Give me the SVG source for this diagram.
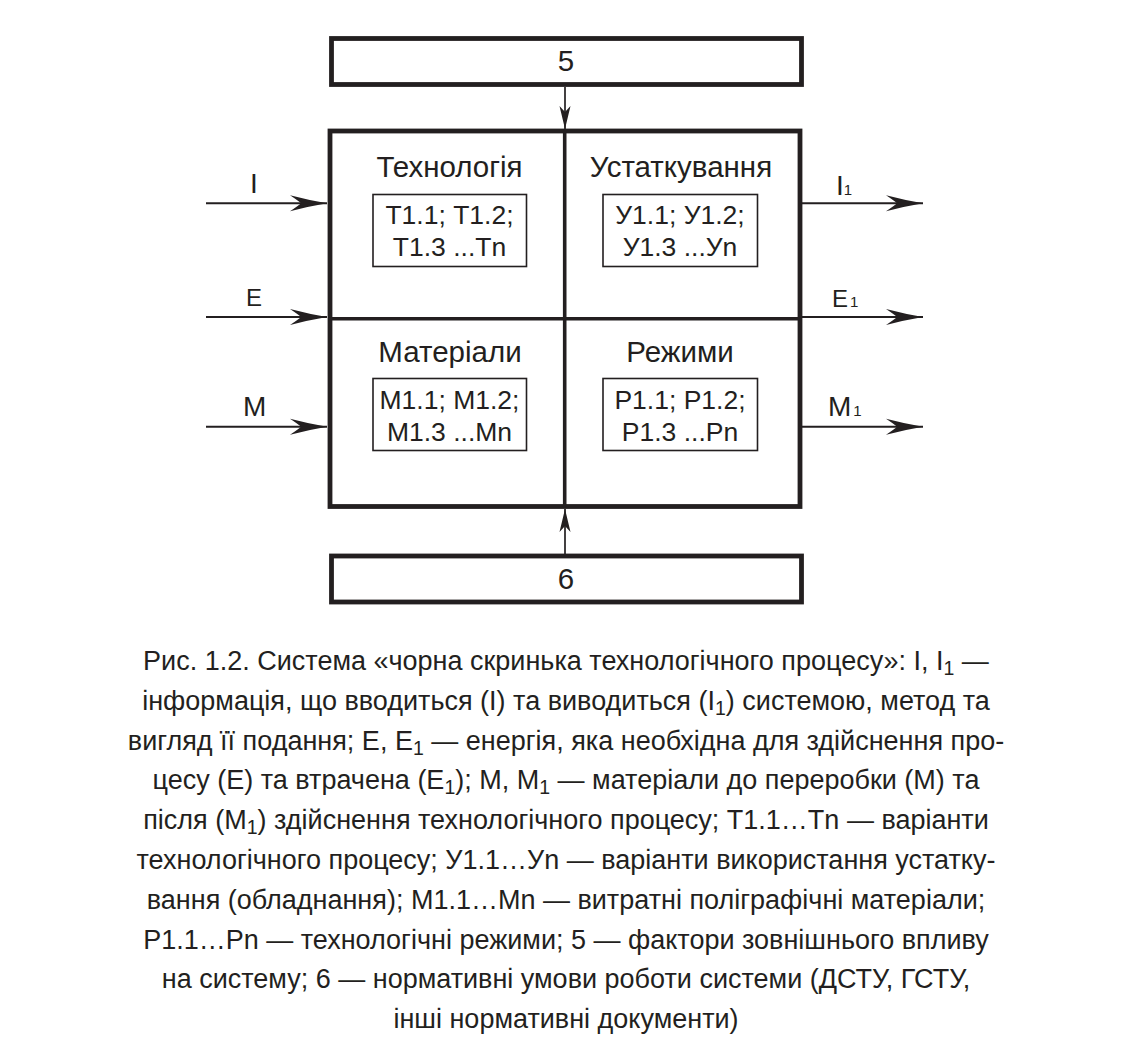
<svg xmlns="http://www.w3.org/2000/svg" width="1132" height="1064" viewBox="0 0 1132 1064">
<style>
.t{font-family:"Liberation Sans",Arial,sans-serif;fill:#231f20}
.ttl{font-size:29.5px;text-anchor:middle}
.bx{font-size:26.5px;text-anchor:middle}
.lbl{font-size:28px}
.cap{font-size:27px;text-anchor:middle}
.sb{font-size:19.5px}
.thick{fill:none;stroke:#231f20;stroke-width:4.8}
.div{fill:none;stroke:#231f20;stroke-width:3.6}
.thin{fill:none;stroke:#231f20;stroke-width:1.6}
.ar{fill:none;stroke:#231f20;stroke-width:2}
.arv{fill:none;stroke:#231f20;stroke-width:1.7}
</style>
<defs>
<marker id="ah" viewBox="-38 -9 39 18" refX="0" refY="0" markerWidth="39" markerHeight="18" markerUnits="userSpaceOnUse" orient="auto">
<path d="M0,0 Q-18,-3 -37,-8 Q-28,-2 -26,0 Q-28,2 -37,8 Q-18,3 0,0 Z" fill="#231f20"/>
</marker>
<marker id="av" viewBox="-24 -6 25 12" refX="0" refY="0" markerWidth="25" markerHeight="12" markerUnits="userSpaceOnUse" orient="auto">
<path d="M0,0 L-23,-5.5 L-17,0 L-23,5.5 Z" fill="#231f20"/>
</marker>
</defs>

<g id="box5">
<rect class="thick" x="331.5" y="38.5" width="470" height="46"/>
<text class="t ttl" x="566" y="71">5</text>
</g>

<g id="main">
<rect class="thick" x="330" y="131" width="470" height="375.5"/>
<line class="div" x1="564.7" y1="131" x2="564.7" y2="506.5"/>
<line class="div" x1="330" y1="318.7" x2="800" y2="318.7"/>
</g>

<g id="tech">
<text class="t ttl" x="449.5" y="177">Технологія</text>
<rect class="thin" x="373" y="194.5" width="153.5" height="72"/>
<text class="t bx" x="449.5" y="224">Т1.1; Т1.2;</text>
<text class="t bx" x="449.5" y="256">Т1.3 ...Тn</text>
</g>

<g id="equip">
<text class="t ttl" x="681" y="177">Устаткування</text>
<rect class="thin" x="603" y="194.5" width="154.5" height="72"/>
<text class="t bx" x="680" y="224">У1.1; У1.2;</text>
<text class="t bx" x="680" y="256">У1.3 ...Уn</text>
</g>

<g id="mat">
<text class="t ttl" x="450" y="362">Матеріали</text>
<rect class="thin" x="373" y="378.5" width="153.5" height="72"/>
<text class="t bx" x="449.5" y="408.5">М1.1; М1.2;</text>
<text class="t bx" x="449.5" y="440.5">М1.3 ...Мn</text>
</g>

<g id="modes">
<text class="t ttl" x="680" y="362">Режими</text>
<rect class="thin" x="603" y="378.5" width="154.5" height="72"/>
<text class="t bx" x="680" y="408.5">Р1.1; Р1.2;</text>
<text class="t bx" x="680" y="440.5">Р1.3 ...Рn</text>
</g>

<g id="box6">
<rect class="thick" x="331.5" y="556" width="470" height="46"/>
<text class="t ttl" x="566" y="589">6</text>
</g>

<g id="labels">
<text class="t lbl" x="250" y="193">I</text>
<text class="t" style="font-size:24px" x="246" y="306">E</text>
<text class="t lbl" x="243" y="416">M</text>
<text class="t lbl" x="836" y="195">I<tspan style="font-size:15px">1</tspan></text>
<text class="t" style="font-size:24px" x="832" y="306.5">E<tspan style="font-size:15px" dx="2">1</tspan></text>
<text class="t lbl" x="828" y="416">M<tspan style="font-size:15px" dx="2">1</tspan></text>
</g>

<g id="connectors">
<line class="ar" x1="206" y1="203.3" x2="327" y2="203.3" marker-end="url(#ah)"/>
<line class="ar" x1="206" y1="317" x2="327" y2="317" marker-end="url(#ah)"/>
<line class="ar" x1="206" y1="426.7" x2="327" y2="426.7" marker-end="url(#ah)"/>
<line class="ar" x1="802" y1="203.3" x2="923" y2="203.3" marker-end="url(#ah)"/>
<line class="ar" x1="802" y1="317" x2="923" y2="317" marker-end="url(#ah)"/>
<line class="ar" x1="802" y1="426.7" x2="923" y2="426.7" marker-end="url(#ah)"/>
<line class="arv" x1="565" y1="87" x2="565" y2="129" marker-end="url(#av)"/>
<line class="arv" x1="565" y1="554" x2="565" y2="509" marker-end="url(#av)"/>
</g>

<g id="caption">
<text class="t cap" x="566" y="670">Рис. 1.2. Система «чорна скринька технологічного процесу»: I, I<tspan dy="5" class="sb">1</tspan><tspan dy="-5"> —</tspan></text>
<text class="t cap" x="566" y="709.8">інформація, що вводиться (I) та виводиться (I<tspan dy="5" class="sb">1</tspan><tspan dy="-5">) системою, метод та</tspan></text>
<text class="t cap" x="566" y="749.6">вигляд її подання; E, E<tspan dy="5" class="sb">1</tspan><tspan dy="-5"> — енергія, яка необхідна для здійснення про-</tspan></text>
<text class="t cap" x="566" y="789.4">цесу (E) та втрачена (E<tspan dy="5" class="sb">1</tspan><tspan dy="-5">); M, M</tspan><tspan dy="5" class="sb">1</tspan><tspan dy="-5"> — матеріали до переробки (M) та</tspan></text>
<text class="t cap" x="566" y="829.2">після (M<tspan dy="5" class="sb">1</tspan><tspan dy="-5">) здійснення технологічного процесу; Т1.1…Тn — варіанти</tspan></text>
<text class="t cap" x="566" y="869">технологічного процесу; У1.1…Уn — варіанти використання устатку-</text>
<text class="t cap" x="566" y="908.8">вання (обладнання); М1.1…Мn — витратні поліграфічні матеріали;</text>
<text class="t cap" x="566" y="948.6">Р1.1…Рn — технологічні режими; 5 — фактори зовнішнього впливу</text>
<text class="t cap" x="566" y="988.4">на систему; 6 — нормативні умови роботи системи (ДСТУ, ГСТУ,</text>
<text class="t cap" x="566" y="1028.2">інші нормативні документи)</text>
</g>
</svg>
